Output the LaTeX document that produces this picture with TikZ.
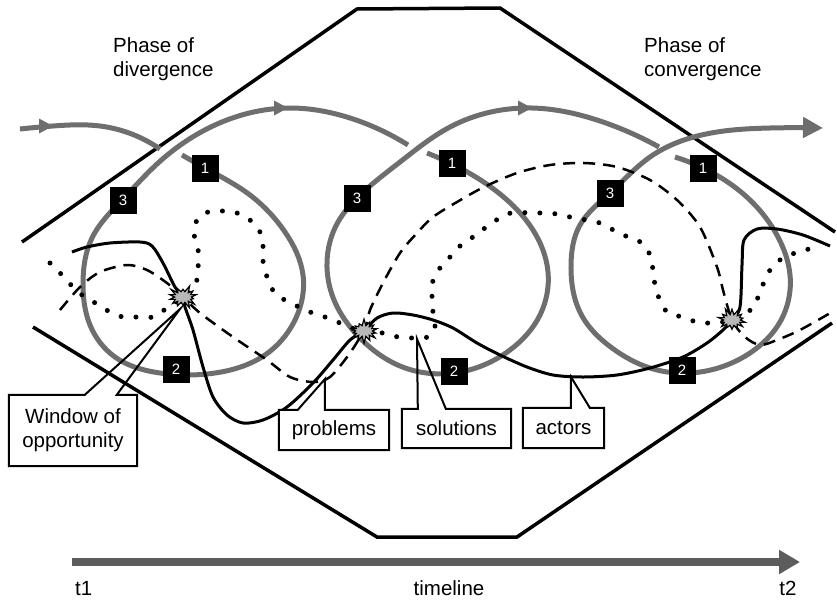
\documentclass[tikz,border=0pt]{standalone}
\usepackage{fontspec}
\setmainfont{Liberation Sans}
\usetikzlibrary{arrows.meta,shapes.symbols,hobby}

\definecolor{spiralgray}{HTML}{6E6E6E}
\definecolor{axisgray}{HTML}{5C5C5C}
\definecolor{burstgray}{HTML}{B8B8B8}

\begin{document}
\begin{tikzpicture}[x=1pt,y=-1pt,
  txt/.style={font=\fontsize{20.5}{24}\selectfont, inner sep=0pt},
  frame/.style={draw=black, line width=3.5pt, line join=miter},
  spiral/.style={draw=spiralgray, line width=5pt, use Hobby shortcut},
  actors/.style={draw=black, line width=3pt},
  problems/.style={draw=black, line width=2.5pt, dash pattern=on 12pt off 8pt},
  solutions/.style={draw=black, line width=5pt, line cap=round, dash pattern=on 0pt off 15pt},
  burst/.style={shape=starburst, fill=burstgray, draw=black, line width=1.2pt,
    minimum width=31pt, minimum height=25pt, inner sep=0pt,
    starburst points=14, starburst point height=7pt},
  numbox/.style={fill=black, text=white, minimum width=27pt, minimum height=27pt,
    inner sep=0pt, font=\fontsize{15}{15}\selectfont},
  lbl/.style={txt, fill=white, align=center},
  callout/.style={draw=black, line width=2pt, line join=miter},
  flowtip/.pic={\fill[spiralgray] (0,0) -- (-14,-7.5) -- (-14,7.5) -- cycle;}
]
\useasboundingbox (0,0) rectangle (837,600);

% outline of the two phases
\draw[frame] (22,242) -- (357,9) -- (500,8) -- (835,232);
\draw[frame] (33,327) -- (377,537) -- (517,537) -- (832,323);

% incoming flow
\draw[spiral] (20,129) .. (53,126) .. (100,126) .. (160,149);
\pic at (53,126) {flowtip};

% first cycle
\draw[spiral] (182,155) .. (205,168) .. (250,195) .. (285,232) .. (303,275)
  .. (294,322) .. (265,355) .. (215,373) .. (160,373) .. (115,357) .. (90,325)
  .. (83,283) .. (92,238) .. (123,199) .. (157,164) .. (215,125) .. (288,108)
  .. (350,118) .. (408,145);
\pic at (288,108) {flowtip};

% second cycle
\draw[spiral] (427,153) .. (452,164) .. (500,194) .. (533,230) .. (548,272)
  .. (540,315) .. (510,350) .. (454,373) .. (400,366) .. (360,338) .. (334,300)
  .. (327,262) .. (338,222) .. (357,198) .. (400,162) .. (450,127) .. (532,108)
  .. (600,121) .. (659,147);
\pic at (532,108) {flowtip};

% third cycle
\draw[spiral, -{Triangle[length=20pt,width=20pt]}] (675,157) .. (703,168)
  .. (750,200) .. (778,237) .. (790,275) .. (780,322) .. (750,353) .. (700,372)
  .. (650,368) .. (612,348) .. (582,316) .. (571,265) .. (580,225) .. (610,193)
  .. (650,157) .. (717,132) .. (770,128) .. (823,128);

% stream of actors
\draw[actors] plot[smooth] coordinates {(72,252) (87,247) (110,243) (140,242) (152,246)
  (163,263) (175,287) (183,297) (185,307) (193,330) (203,367) (213,397) (227,415)
  (243,423) (263,420) (287,407) (313,383) (333,360) (350,340) (365,330) (377,318)
  (393,313) (413,315) (433,320) (453,328) (477,343) (500,355) (527,367) (553,375)
  (583,377) (617,375) (650,368) (683,357) (707,343) (723,330) (732,320) (740,307)
  (742,265) (744,240) (757,229) (777,229) (803,235) (830,246)};

% stream of problems
\draw[problems] plot[smooth] coordinates {(60,310) (80,287) (100,272) (127,265) (147,270)
  (167,283) (183,297) (200,313) (233,337) (267,360) (290,377) (313,382) (330,377)
  (350,353) (365,328) (370,310) (383,283) (400,253) (417,233) (433,217) (457,202)
  (484,187) (517,173) (550,165) (584,163) (617,167) (650,180) (677,200) (700,227)
  (717,267) (723,290) (732,320) (745,337) (760,345) (777,340) (800,330) (832,312)};

% stream of solutions
\draw[solutions] plot[smooth] coordinates {(50,263) (62,275) (72,286) (82,295) (97,304)
  (110,312) (123,317) (138,317) (153,317) (167,308) (183,297) (198,278) (198,263)
  (198,248) (194,234) (197,220) (208,212) (223,211) (237,213) (250,220) (260,232)
  (263,246) (263,261) (267,277) (272,289) (283,299) (310,312) (325,317) (345,325)
  (363,332) (383,333) (398,337) (413,338) (428,337) (435,327) (433,312) (432,297)
  (433,280) (440,268) (450,257) (460,246) (473,237) (485,228) (498,219) (511,213)
  (542,213) (557,214) (570,217) (600,223) (615,231) (628,237) (642,243) (650,255)
  (653,270) (655,285) (659,298) (667,312) (682,317) (697,322) (712,323) (732,320)
  (753,308) (759,294) (765,280) (772,267) (783,258) (798,252) (813,248)};

% windows of opportunity
\node[burst, random starburst=3] (w1) at (183,297) {};
\node[burst, random starburst=7] (w2) at (364,331) {};
\node[burst, random starburst=11] (w3) at (732,320) {};

% stages of each cycle
\node[numbox] (a1) at (205,168) {1};
\node[numbox] (a2) at (176,369) {2};
\node[numbox] (a3) at (123,200) {3};
\node[numbox] (b1) at (452,163) {1};
\node[numbox] (b2) at (454,371) {2};
\node[numbox] (b3) at (357,198) {3};
\node[numbox] (c1) at (703,168) {1};
\node[numbox] (c2) at (682,370) {2};
\node[numbox] (c3) at (610,193) {3};

% callout labels
\coordinate (wtip) at (180,309);
\coordinate (ptip) at (325,379);
\coordinate (stip) at (417,339);
\coordinate (atip) at (571,377);

\node[lbl, minimum width=128pt, minimum height=71pt] (win) at (73,430.5) {Window of\\opportunity};
\draw[callout] (win.north west) -- ([xshift=76pt]win.north west) -- (wtip)
  -- ([xshift=108pt]win.north west) -- (win.north east) -- (win.south east)
  -- (win.south west) -- cycle;

\node[lbl, minimum width=110pt, minimum height=40pt] (prob) at (334,430) {problems};
\draw[callout] (prob.north west) -- ([xshift=19pt]prob.north west) -- (ptip)
  -- ([xshift=46pt]prob.north west) -- (prob.north east) -- (prob.south east)
  -- (prob.south west) -- cycle;

\node[lbl, minimum width=109pt, minimum height=39pt] (sol) at (456.5,428.5) {solutions};
\draw[callout] (sol.north west) -- ([xshift=16pt]sol.north west) -- (stip)
  -- ([xshift=44pt]sol.north west) -- (sol.north east) -- (sol.south east)
  -- (sol.south west) -- cycle;

\node[lbl, minimum width=81pt, minimum height=40pt] (act) at (563.5,428) {actors};
\draw[callout] (act.north west) -- ([xshift=48pt]act.north west) -- (atip)
  -- ([xshift=67pt]act.north west) -- (act.north east) -- (act.south east)
  -- (act.south west) -- cycle;

% phase titles
\node[txt, anchor=north west, align=left] (div) at (113,37) {Phase of\\divergence};
\node[txt, anchor=north west, align=left] (conv) at (644,37) {Phase of\\convergence};

% timeline
\coordinate (tstart) at (72,562);
\coordinate (tend) at (800,562);
\draw[axisgray, line width=8pt, -{Triangle[length=21pt,width=23pt]}] (tstart) -- (tend);
\node[txt, anchor=base west] (t1) at (75,595) {t1};
\node[txt, anchor=base] (tl) at (449,595) {timeline};
\node[txt, anchor=base] (t2) at (788,595) {t2};
\end{tikzpicture}
\end{document}
